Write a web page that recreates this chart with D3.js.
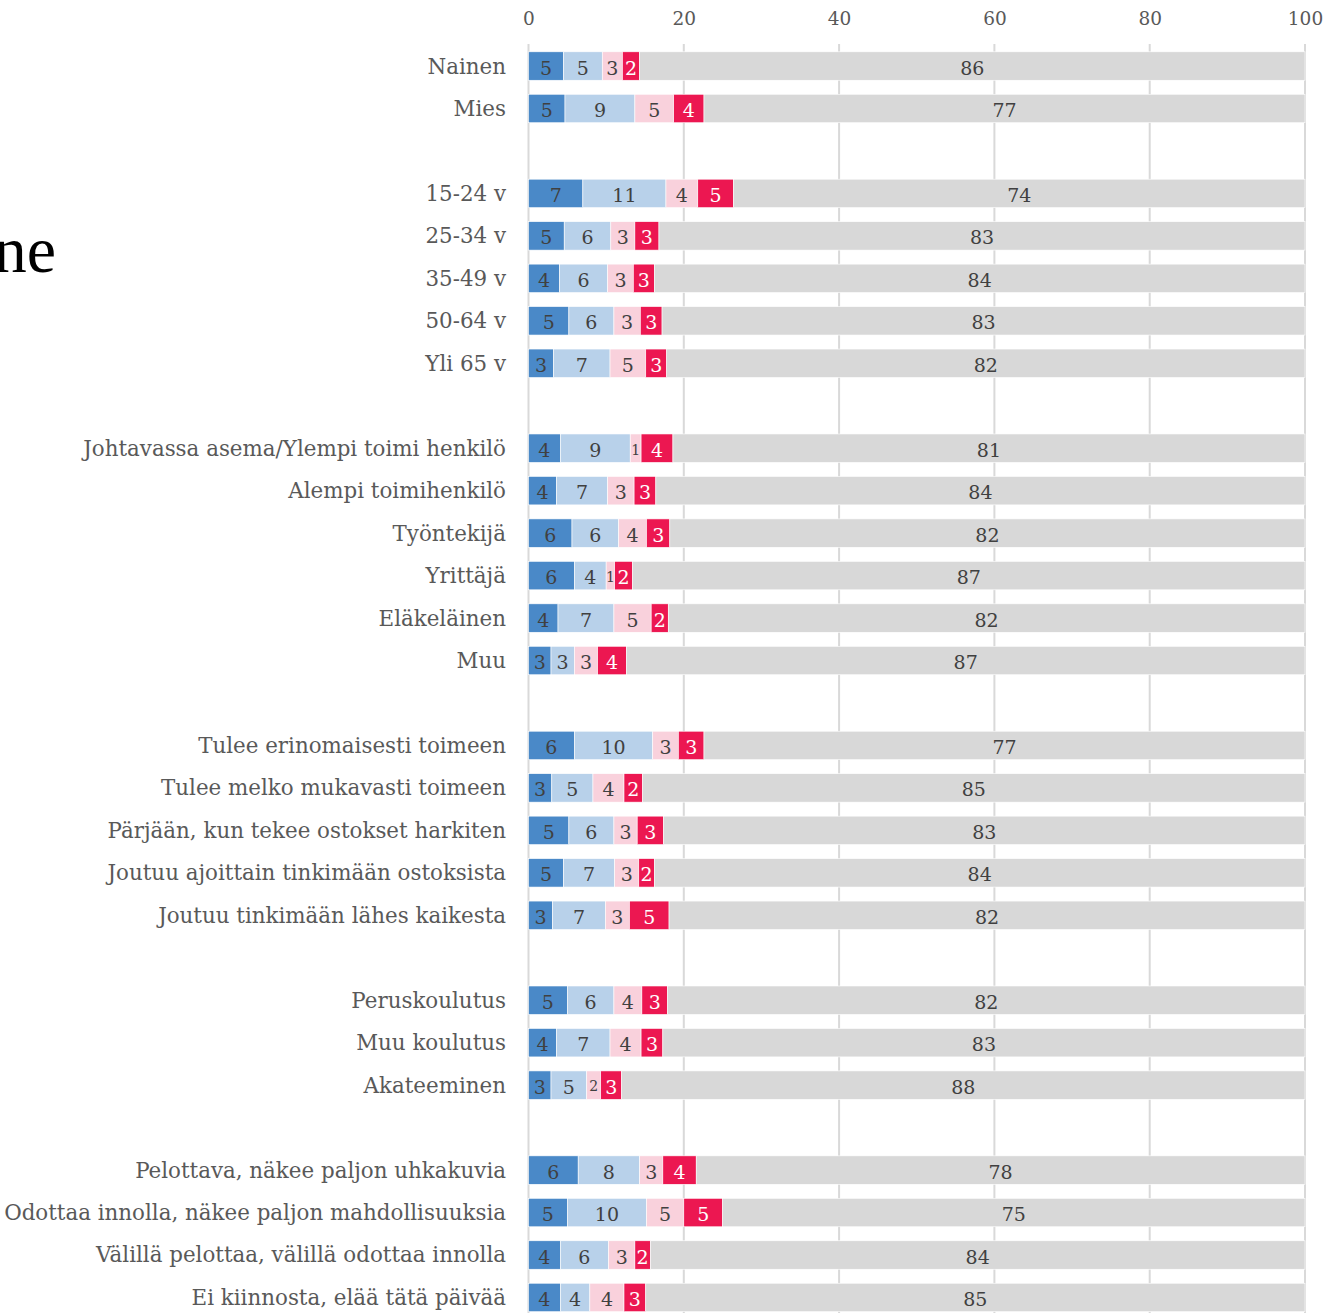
<!DOCTYPE html>
<html>
<head>
<meta charset="utf-8">
<script src="https://cdn.jsdelivr.net/npm/d3@7"></script>
<style>
  body { margin: 0; background: #fff; }
  svg { display: block; }
</style>
</head>
<body>
<svg id="chart"></svg>
<script>

var size = { width: 1327, height: 1313 };

// category groups (a blank row sits between groups)
var groups = [
  ["Nainen", "Mies"],
  ["15-24 v", "25-34 v", "35-49 v", "50-64 v", "Yli 65 v"],
  ["Johtavassa asema/Ylempi toimi henkilö", "Alempi toimihenkilö", "Työntekijä", "Yrittäjä", "Eläkeläinen", "Muu"],
  ["Tulee erinomaisesti toimeen", "Tulee melko mukavasti toimeen", "Pärjään, kun tekee ostokset harkiten", "Joutuu ajoittain tinkimään ostoksista", "Joutuu tinkimään lähes kaikesta"],
  ["Peruskoulutus", "Muu koulutus", "Akateeminen"],
  ["Pelottava, näkee paljon uhkakuvia", "Odottaa innolla, näkee paljon mahdollisuuksia", "Välillä pelottaa, välillä odottaa innolla", "Ei kiinnosta, elää tätä päivää"]
];

// series values (%), in the order of the flattened groups
var series1 = [4.5, 4.7,  7.0, 4.6, 4.0, 5.2, 3.2,  4.1, 3.6, 5.6, 5.9, 3.8, 2.9,  5.9, 3.0, 5.2, 4.5, 3.1,  5.0, 3.6, 2.9,  6.4, 5.0, 4.1, 4.1];
var series2 = [5.0, 9.0,  10.7, 6.0, 6.2, 5.8, 7.3,  9.0, 6.6, 6.0, 4.1, 7.2, 3.0,  10.1, 5.3, 5.8, 6.6, 6.8,  6.0, 6.9, 4.6,  7.9, 10.2, 6.2, 3.8];
var series3 = [2.6, 5.0,  4.1, 3.1, 3.3, 3.4, 4.6,  1.4, 3.4, 3.6, 1.1, 4.8, 3.0,  3.3, 4.0, 3.0, 3.1, 3.1,  3.6, 4.0, 1.8,  3.0, 4.8, 3.4, 4.4];
var series4 = [2.2, 3.9,  4.6, 3.1, 2.7, 2.8, 2.7,  4.1, 2.8, 3.0, 2.3, 2.2, 3.7,  3.3, 2.4, 3.4, 2.0, 5.1,  3.3, 2.8, 2.7,  4.3, 5.0, 2.0, 2.8];
var series5 = [85.7, 77.4,  73.6, 83.2, 83.8, 82.8, 82.2,  81.4, 83.6, 81.8, 86.6, 82.0, 87.4,  77.4, 85.3, 82.6, 83.8, 81.9,  82.1, 82.7, 88.0,  78.4, 75.0, 84.3, 84.9];

var xTicks = [0, 20, 40, 60, 80, 100];

var keys = ["s1", "s2", "s3", "s4", "s5"];
var colors = { s1: "#4a89c8", s2: "#b8d1ea", s3: "#f9d1dc", s4: "#ec1751", s5: "#d8d8d8" };
var labelColors = { s1: "#404040", s2: "#404040", s3: "#404040", s4: "#ffffff", s5: "#404040" };

var categories = [];
var slots = [];
groups.forEach(function(g, gi) {
  g.forEach(function(c) { categories.push(c); slots.push(c); });
  if (gi < groups.length - 1) slots.push("gap" + gi);
});

var table = categories.map(function(c, i) {
  return { cat: c, s1: series1[i], s2: series2[i], s3: series3[i], s4: series4[i], s5: series5[i] };
});

var svg = d3.select("#chart")
  .attr("width", size.width)
  .attr("height", size.height);

var x = d3.scaleLinear().domain([0, 100]).range([528.5, 1305]);
var y = d3.scaleBand().domain(slots).range([44.8, 1318.7])
  .paddingInner(0.33).paddingOuter(0.165);

var serif = "'DejaVu Serif', 'Liberation Serif', serif";

// cut-off title on the left
svg.append("text")
  .attr("x", 56)
  .attr("y", 272)
  .attr("text-anchor", "end")
  .attr("font-family", "'Liberation Serif', serif")
  .attr("font-size", 66)
  .attr("fill", "#000")
  .text("ne");

// grid
svg.append("g").selectAll("line")
  .data(xTicks)
  .enter().append("line")
    .attr("x1", function(d) { return x(d); })
    .attr("x2", function(d) { return x(d); })
    .attr("y1", 44)
    .attr("y2", size.height)
    .attr("stroke", "#d9d9d9")
    .attr("stroke-width", 2);

// top axis
var axis = svg.append("g")
  .attr("transform", "translate(0,29)")
  .call(d3.axisTop(x).tickValues(xTicks).tickSize(0).tickPadding(0));
axis.select(".domain").remove();
axis.selectAll("text")
  .attr("font-family", serif)
  .attr("font-size", 18.5)
  .attr("fill", "#595959")
  .attr("dy", "-0.2em");

// category labels
svg.append("g").selectAll("text")
  .data(categories)
  .enter().append("text")
    .attr("x", 506)
    .attr("y", function(d) { return y(d) + y.bandwidth() / 2; })
    .attr("dy", "0.35em")
    .attr("text-anchor", "end")
    .attr("font-family", serif)
    .attr("font-size", 21.4)
    .attr("fill", "#595959")
    .text(function(d) { return d; });

// stacked bars
var stacked = d3.stack().keys(keys)(table);

var layer = svg.append("g").selectAll("g")
  .data(stacked)
  .enter().append("g")
    .attr("fill", function(d) { return colors[d.key]; });

layer.selectAll("rect")
  .data(function(d) { return d; })
  .enter().append("rect")
    .attr("x", function(d) { return x(d[0]); })
    .attr("y", function(d) { return y(d.data.cat); })
    .attr("width", function(d) { return x(d[1]) - x(d[0]); })
    .attr("height", y.bandwidth())
    .attr("stroke", "#fff")
    .attr("stroke-width", 0.6);

layer.selectAll("text")
  .data(function(d) { return d.map(function(p) { p.key = d.key; return p; }); })
  .enter().append("text")
    .attr("x", function(d) { return (x(d[0]) + x(d[1])) / 2; })
    .attr("y", function(d) { return y(d.data.cat) + y.bandwidth() / 2; })
    .attr("dy", "0.45em")
    .attr("text-anchor", "middle")
    .attr("font-family", serif)
    .attr("font-size", function(d) { return (x(d[1]) - x(d[0])) < 14 ? 14 : 19; })
    .attr("fill", function(d) { return labelColors[d.key]; })
    .text(function(d) { return Math.round(d[1] - d[0]); });

</script>
</body>
</html>
